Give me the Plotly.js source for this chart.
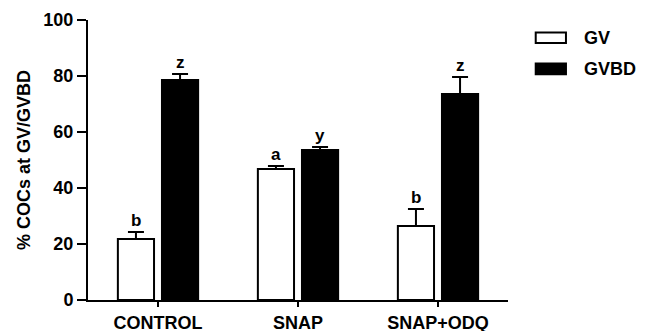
<!DOCTYPE html>
<html>
<head>
<meta charset="utf-8">
<script src="https://cdn.plot.ly/plotly-3.0.1.min.js"></script>
<style>html,body{margin:0;padding:0;background:#fff;}#chart{width:651px;height:331px;}</style>
</head>
<body>
<div id="chart"></div>
<script>
var categories = ["CONTROL", "SNAP", "SNAP+ODQ"];
var gvValues = [21.8, 46.8, 26.4];
var gvErrors = [2.5, 1.1, 6.1];
var gvbdValues = [78.6, 53.6, 73.6];
var gvbdErrors = [2.1, 1.0, 6.0];
var gvLetters = ["b", "a", "b"];
var gvbdLetters = ["z", "y", "z"];
var seriesNames = ["GV", "GVBD"];
var yTicks = [0, 20, 40, 60, 80, 100];

var FONT = "Liberation Sans, Arial, Helvetica, sans-serif";
var boldFont = function (s) { return {family: FONT, size: s, color: "#000", weight: 700}; };

var errStyle = {type: "data", symmetric: false, color: "#000", thickness: 2, width: 8};

var traces = [
  {
    type: "bar", name: seriesNames[0], x: categories, y: gvValues,
    marker: {color: "#fff", line: {color: "#000", width: 2}},
    error_y: Object.assign({array: gvErrors, arrayminus: gvErrors.map(function(){return 0;})}, errStyle),
    showlegend: false, hoverinfo: "skip"
  },
  {
    type: "bar", name: seriesNames[1], x: categories, y: gvbdValues,
    marker: {color: "#000", line: {color: "#000", width: 2}},
    error_y: Object.assign({array: gvbdErrors, arrayminus: gvbdErrors.map(function(){return 0;})}, errStyle),
    showlegend: false, hoverinfo: "skip"
  }
];

var bargap = 0.37, bargroupgap = 0.18;
var slot = (1 - bargap) / 2;
var annotations = [];
categories.forEach(function (c, i) {
  annotations.push({x: i - slot / 2, y: gvValues[i] + gvErrors[i], xref: "x", yref: "y",
    text: gvLetters[i], showarrow: false, yanchor: "bottom", yshift: 0, font: boldFont(17)});
  annotations.push({x: i + slot / 2, y: gvbdValues[i] + gvbdErrors[i], xref: "x", yref: "y",
    text: gvbdLetters[i], showarrow: false, yanchor: "bottom", yshift: 0, font: boldFont(17)});
});

// legend drawn manually
var legendRows = [
  {name: seriesNames[0], fill: "#fff", y0: 0.955, y1: 0.918, ty: 0.936},
  {name: seriesNames[1], fill: "#000", y0: 0.845, y1: 0.806, ty: 0.826}
];
var shapes = [];
legendRows.forEach(function (r) {
  shapes.push({type: "rect", xref: "paper", yref: "paper", x0: 1.066, x1: 1.138, y0: r.y1, y1: r.y0,
    fillcolor: r.fill, line: {color: "#000", width: 2}});
  annotations.push({xref: "paper", yref: "paper", x: 1.176, y: r.ty, xanchor: "left", yanchor: "middle",
    text: r.name, showarrow: false, font: boldFont(18)});
});

var layout = {
  width: 651, height: 331,
  margin: {l: 88, r: 143, t: 20, b: 31, pad: 0},
  paper_bgcolor: "#fff", plot_bgcolor: "#fff",
  barmode: "group", bargap: bargap, bargroupgap: bargroupgap,
  font: boldFont(18),
  xaxis: {
    type: "category", range: [-0.5, 2.5], showgrid: false, zeroline: false,
    showline: true, linecolor: "#000", linewidth: 2,
    ticks: "outside", ticklen: 5, tickwidth: 2, tickcolor: "#000",
    tickfont: boldFont(18), fixedrange: true
  },
  yaxis: {
    range: [0, 100], tickvals: yTicks, ticktext: yTicks.map(String),
    showgrid: false, zeroline: false,
    showline: true, linecolor: "#000", linewidth: 2,
    ticks: "outside", ticklen: 9, tickwidth: 2, tickcolor: "#000",
    tickfont: boldFont(18),
    title: {text: "% COCs at GV/GVBD", font: boldFont(18), standoff: 8},
    fixedrange: true
  },
  annotations: annotations,
  shapes: shapes,
  showlegend: false
};

Plotly.newPlot("chart", traces, layout, {displayModeBar: false, staticPlot: true});
</script>
</body>
</html>
